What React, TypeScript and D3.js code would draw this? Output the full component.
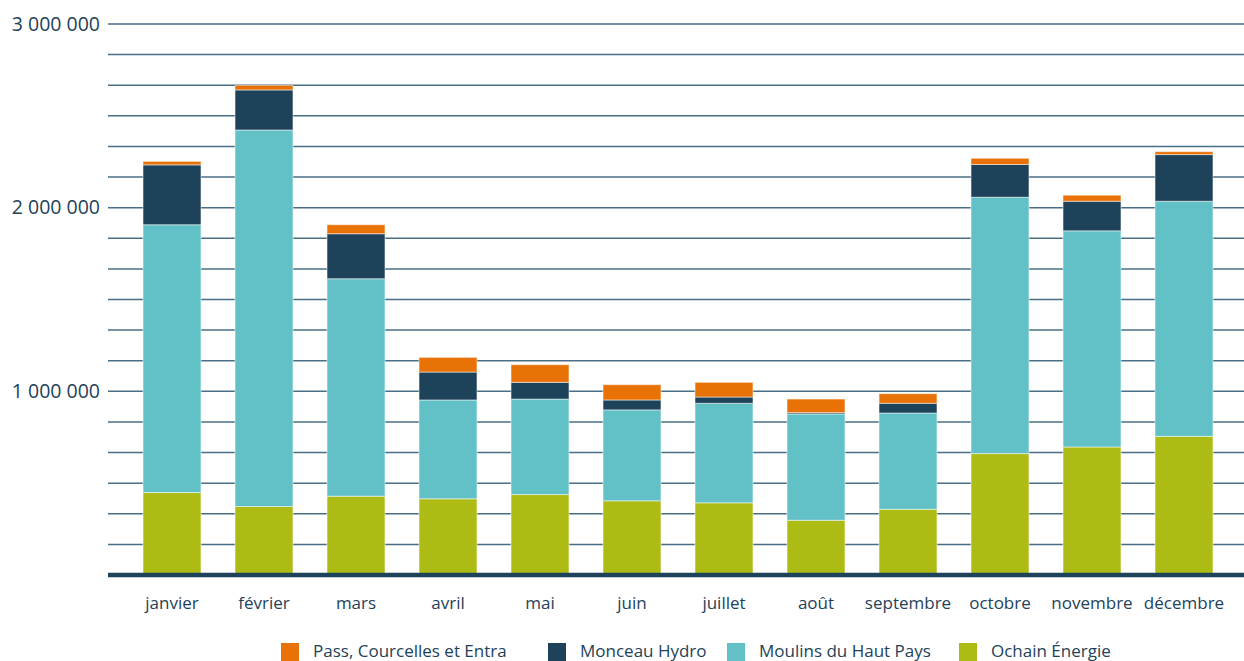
import React from "react";
import * as d3 from "d3";

const months = ["janvier", "février", "mars", "avril", "mai", "juin", "juillet", "août", "septembre", "octobre", "novembre", "décembre"];
const ochain = [449000, 373000, 429000, 415000, 438000, 404000, 393000, 298000, 358000, 661000, 697000, 755000];
const moulins = [1458000, 2050000, 1184000, 538000, 520000, 495000, 542000, 579000, 524000, 1396000, 1177000, 1280000];
const monceau = [326000, 218000, 245000, 152000, 91000, 54000, 34000, 7000, 53000, 178000, 161000, 254000];
const pass = [19000, 25000, 49000, 80000, 96000, 83000, 80000, 74000, 52000, 34000, 33000, 16000];
const seriesNames = ["Ochain Énergie", "Moulins du Haut Pays", "Monceau Hydro", "Pass, Courcelles et Entra"];
const legendOrder = ["Pass, Courcelles et Entra", "Monceau Hydro", "Moulins du Haut Pays", "Ochain Énergie"];
const colors: Record<string, string> = {
  "Ochain Énergie": "#adbc14",
  "Moulins du Haut Pays": "#62c1c7",
  "Monceau Hydro": "#1d4259",
  "Pass, Courcelles et Entra": "#e87206",
};
const tickValues = [1000000, 2000000, 3000000];

const W = 1244, H = 661;
const FONT = "'Open Sans', sans-serif";
const TXT = "#1d4259";

export default function App() {
  const rows = months.map((m, i) => ({
    month: m,
    "Ochain Énergie": ochain[i],
    "Moulins du Haut Pays": moulins[i],
    "Monceau Hydro": monceau[i],
    "Pass, Courcelles et Entra": pass[i],
  }));
  const stack = d3.stack<any>().keys(seriesNames)(rows);
  const x = d3.scaleBand().domain(months).range([126, 1230]).paddingInner(0.37).paddingOuter(0.185);
  const y = d3.scaleLinear().domain([0, 3000000]).range([575, 24]);
  const grid = d3.range(1, 19).map((k) => (k * 3000000) / 18);
  const fmt = (v: number) => d3.format(",")(v).replace(/,/g, " ");

  const legendX = [281, 548, 727, 959];

  return (
    <div style={{ position: "absolute", left: 0, top: 0 }}>
      <svg width={W} height={H} style={{ display: "block" }}>
        <rect width={W} height={H} fill="#fff" />
        {grid.map((g, i) => (
          <line key={i} x1={108} x2={W} y1={y(g)} y2={y(g)} stroke="#2a5570" strokeWidth={1.5} opacity={0.85} />
        ))}
        {tickValues.map((t) => (
          <text key={t} x={100} y={y(t)} dy="0.35em" textAnchor="end" fontFamily={FONT} fontSize={19.5} fill={TXT}>
            {fmt(t)}
          </text>
        ))}
        {stack.map((s) => (
          <g key={s.key} fill={colors[s.key]}>
            {s.map((d: any, i: number) => (
              <rect
                key={i}
                x={x(months[i])}
                width={x.bandwidth()}
                y={y(d[1])}
                height={Math.max(0, y(d[0]) - y(d[1]))}
                stroke="#ffffff"
                strokeOpacity={0.5}
                strokeWidth={1}
              />
            ))}
          </g>
        ))}
        <line x1={108} x2={W} y1={575} y2={575} stroke="#1d4259" strokeWidth={4.5} />
        {months.map((m) => (
          <text key={m} x={(x(m) as number) + x.bandwidth() / 2} y={609} textAnchor="middle" fontFamily={FONT} fontSize={17} fill={TXT}>
            {m}
          </text>
        ))}
        {legendOrder.map((n, i) => (
          <g key={n} transform={`translate(${legendX[i]},643)`}>
            <rect width={18} height={18} fill={colors[n]} />
            <text x={32} y={13.5} fontFamily={FONT} fontSize={17} fill={TXT}>
              {n}
            </text>
          </g>
        ))}
      </svg>
    </div>
  );
}
